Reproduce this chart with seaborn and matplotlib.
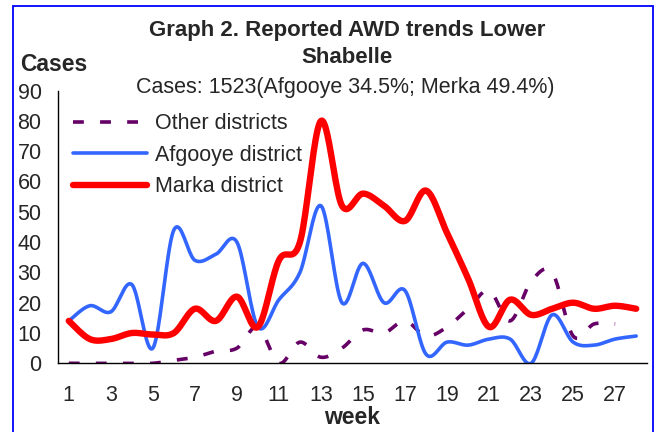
import numpy as np
import pandas as pd
import matplotlib.pyplot as plt
from matplotlib.patches import Rectangle
import seaborn as sns

# weekly reported cases
weeks = list(range(1, 29))
other = [0, 0, 0, 0, 0, 1, 2, 4, 5, 12, 0, 7, 2, 5, 11, 10, 14, 9, 12, 18,
         24, 14, 27, 30, 9, 13, 13, np.nan]
afgooye = [14, 19, 17, 26, 5, 44, 34, 36, 40, 12, 21, 30, 52, 20, 33, 20, 24, 3,
           7, 6, 8, 8, 0, 16, 7, 6, 8, 9]
marka = [14, 8, 8, 10, 9.5, 10, 18, 14, 22, 12, 34, 40, 80, 52, 56, 52, 47, 57,
         43, 28, 12, 21, 16, 18, 20, 18, 19, 18]
odd_weeks = list(range(1, 29, 2))
y_ticks = list(range(0, 91, 10))


def smooth(x, y, n=20):
    # Excel style "smoothed line": bezier through each point (catmull-rom handles)
    x = np.asarray(x, float)
    y = np.asarray(y, float)
    ok = ~np.isnan(y)
    x, y = x[ok], y[ok]
    t = np.linspace(0, 1, n, endpoint=False)[:, None]
    res = []
    for v in (x, y):
        p = np.concatenate([[v[0]], v, [v[-1]]])
        p0, p1, p2, p3 = p[:-3], p[1:-2], p[2:-1], p[3:]
        c1 = p1 + (p2 - p0) / 6
        c2 = p2 - (p3 - p1) / 6
        b = ((1 - t) ** 3 * p1 + 3 * (1 - t) ** 2 * t * c1
             + 3 * (1 - t) * t ** 2 * c2 + t ** 3 * p2)
        res.append(np.append(b.T.ravel(), v[-1]))
    return res


sns.set_style("white")
plt.rcParams['font.family'] = ['Liberation Sans', 'DejaVu Sans']

fig = plt.figure(figsize=(6.57, 4.32), dpi=100)
ax = fig.add_axes([0.0887, 0.159, 0.8956, 0.6313])

series = [("Other districts", other, "#660066", 2.6, (3, 4.5)),
          ("Afgooye district", afgooye, "#3366FF", 2.6, None),
          ("Marka district", marka, "#FF0000", 4.6, None)]
for name, vals, col, lw, dash in series:
    sx, sy = smooth(weeks, vals)
    sns.lineplot(x=sx, y=sy, sort=False, estimator=None, color=col, lw=lw,
                 label=name, ax=ax)
    if dash:
        ax.lines[-1].set_dashes(dash)

ax.set_xlim(0.5, 28.5)
ax.set_ylim(0, 90)
ax.set_yticks(y_ticks)
ax.set_yticklabels([str(v) for v in y_ticks], fontsize=15.5)
ax.set_xticks(np.arange(0.5, 29, 1))
ax.set_xticklabels([])
ax.set_xticks(odd_weeks, minor=True)
ax.set_xticklabels([str(w) for w in odd_weeks], minor=True, fontsize=15.5)
ax.tick_params(axis='x', which='major', direction='out', length=4.5, width=1, color='black')
ax.tick_params(axis='x', which='minor', length=0, pad=15.5)
ax.tick_params(axis='y', direction='out', length=5, width=1, color='black', pad=7)
for s in ['top', 'right']:
    ax.spines[s].set_visible(False)
for s in ['left', 'bottom']:
    ax.spines[s].set_color('black')
    ax.spines[s].set_linewidth(1)
ax.set_xlabel("week", fontsize=16.5, fontweight='bold', labelpad=0)
ax.set_ylabel("")

leg = ax.legend(loc='upper left', bbox_to_anchor=(0.025, 0.917), frameon=False,
                fontsize=15.5, handlelength=3.45, handletextpad=0.37,
                labelspacing=0.49, borderaxespad=0, borderpad=0)

fig.text(0.528, 0.93, "Graph 2. Reported AWD trends Lower", ha='center', va='center',
         fontsize=16, fontweight='bold')
fig.text(0.528, 0.866, "Shabelle", ha='center', va='center', fontsize=16, fontweight='bold')
fig.text(0.525, 0.797, "Cases: 1523(Afgooye 34.5%; Merka 49.4%)", ha='center',
         va='center', fontsize=15.5)
fig.text(0.03, 0.85, "Cases", ha='left', va='center', fontsize=16.5, fontweight='bold')

fig.patches.append(Rectangle((13 / 657, -0.05), 640 / 657, 1.05 - 6 / 432,
                             transform=fig.transFigure, fill=False,
                             edgecolor='#0000FF', lw=1.3))

plt.savefig("out.png", dpi=100)
